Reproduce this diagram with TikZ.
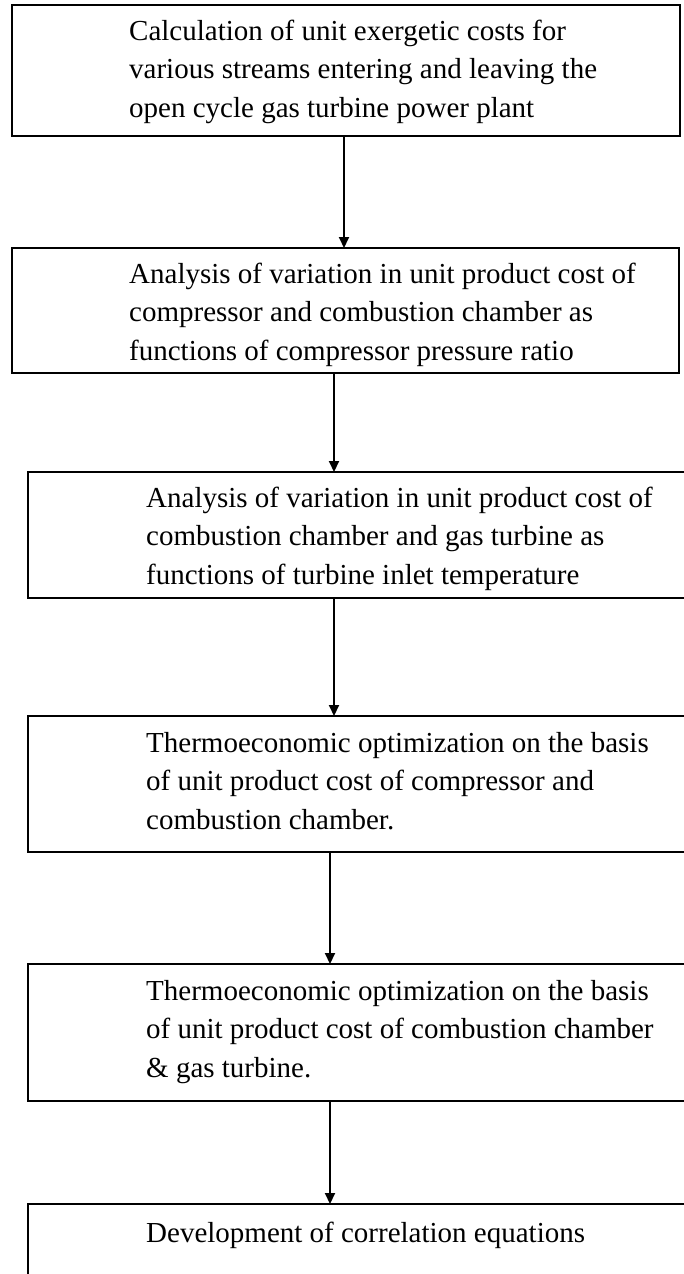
\documentclass[tikz,border=0pt]{standalone}
\usepackage{fontspec}
\setmainfont{Liberation Serif}
\usetikzlibrary{arrows.meta}
\begin{document}
\begin{tikzpicture}[x=1pt,y=-1pt,
  box/.style={draw=black,line width=2pt,rectangle,inner sep=0pt,outer sep=0pt,anchor=north west},
  txt/.style={anchor=base west,inner sep=0pt,align=left,font=\fontsize{29}{38.5}\selectfont},
  flow/.style={line width=2pt,-{Triangle[length=11pt,width=10pt]}}]
\useasboundingbox (0,0) rectangle (684,1274);
\clip (0,0) rectangle (684,1274);
\fill[white] (0,0) rectangle (684,1274);
% boxes
\node[box,minimum width=668pt,minimum height=131pt] (b1) at (12,5) {};
\node[box,minimum width=667pt,minimum height=125pt] (b2) at (12,248) {};
\node[box,minimum width=700pt,minimum height=126pt] (b3) at (28,472) {};
\node[box,minimum width=700pt,minimum height=136pt] (b4) at (28,716) {};
\node[box,minimum width=700pt,minimum height=137pt] (b5) at (28,964) {};
\node[box,minimum width=700pt,minimum height=120pt] (b6) at (28,1204) {};
% texts (anchored at the baseline of the last line)
\node[txt] (t1) at (129,117) {Calculation of unit exergetic costs for\\various streams entering and leaving the\\open cycle gas turbine power plant};
\node[txt] (t2) at (129,360) {Analysis of variation in unit product cost of\\compressor and combustion chamber as\\functions of compressor pressure ratio};
\node[txt] (t3) at (146,584) {Analysis of variation in unit product cost of\\combustion chamber and gas turbine as\\functions of turbine inlet temperature};
\node[txt] (t4) at (146,829) {Thermoeconomic optimization on the basis\\of unit product cost of compressor and\\combustion chamber.};
\node[txt] (t5) at (146,1077) {Thermoeconomic optimization on the basis\\of unit product cost of combustion chamber\\\& gas turbine.};
\node[txt] (t6) at (146,1242) {Development of correlation equations};
% arrow columns
\coordinate (a1) at (344,0);
\coordinate (a2) at (334,0);
\coordinate (a3) at (334,0);
\coordinate (a4) at (330,0);
\coordinate (a5) at (330,0);
\draw[flow] (b1.south -| a1) -- (b2.north -| a1);
\draw[flow] (b2.south -| a2) -- (b3.north -| a2);
\draw[flow] (b3.south -| a3) -- (b4.north -| a3);
\draw[flow] (b4.south -| a4) -- (b5.north -| a4);
\draw[flow] (b5.south -| a5) -- (b6.north -| a5);
\end{tikzpicture}
\end{document}
